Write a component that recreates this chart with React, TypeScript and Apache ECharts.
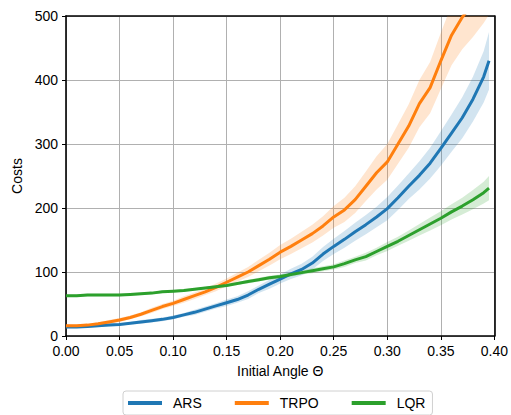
import React, { useEffect, useRef } from "react";
import * as echarts from "echarts";

const angles = [
  0, 0.01, 0.02, 0.03, 0.04, 0.05, 0.06, 0.07, 0.08, 0.09,
  0.1, 0.11, 0.12, 0.13, 0.14, 0.15, 0.16, 0.17, 0.18, 0.19,
  0.2, 0.21, 0.22, 0.23, 0.24, 0.25, 0.26, 0.27, 0.28, 0.29,
  0.3, 0.31, 0.32, 0.33, 0.34, 0.35, 0.36, 0.37, 0.38, 0.39, 0.395,
];

const arsMean = [
  14, 14, 15, 16, 17, 18, 20, 22, 24, 26,
  29, 33, 37, 42, 47, 52, 57, 64, 73, 81,
  89, 97, 104, 114, 128, 140, 151, 163, 174, 186,
  199, 216, 234, 251, 270, 293, 317, 341, 370, 405, 430,
];
const arsSpread = [
  2, 2, 2, 2, 2, 2, 2, 3, 3, 3,
  3, 3, 4, 4, 4, 5, 5, 6, 6, 7,
  7, 8, 9, 10, 11, 12, 13, 14, 15, 16,
  18, 19, 20, 22, 24, 27, 29, 32, 35, 40, 45,
];

const trpoMean = [
  16, 16, 17, 19, 22, 25, 29, 34, 40, 46,
  51, 57, 63, 69, 76, 84, 92, 100, 110, 120,
  131, 140, 150, 160, 172, 186, 197, 213, 234, 255,
  272, 300, 328, 363, 388, 430, 470, 498, 520, 545, 560,
];
const trpoSpread = [
  2, 2, 2, 2, 3, 3, 3, 3, 4, 4,
  4, 5, 5, 5, 6, 6, 7, 8, 9, 10,
  11, 12, 13, 14, 15, 17, 19, 21, 23, 26,
  28, 31, 34, 37, 40, 44, 47, 50, 53, 56, 58,
];

const lqrMean = [
  63, 63, 64, 64, 64, 64, 65, 66, 67, 69,
  70, 71, 73, 75, 77, 79, 82, 85, 88, 91,
  93, 96, 99, 102, 105, 108, 113, 119, 124, 132,
  140, 148, 157, 166, 175, 184, 194, 203, 213, 224, 231,
];
const lqrSpread = [
  2, 2, 2, 2, 2, 2, 2, 2, 2, 2,
  2, 2, 2, 2, 2, 2, 2, 3, 3, 3,
  3, 3, 3, 4, 4, 4, 5, 5, 6, 6,
  7, 7, 8, 9, 10, 11, 12, 13, 15, 17, 19,
];

const seriesNames = ["ARS", "TRPO", "LQR"];
const colors = ["#1f77b4", "#ff7f0e", "#2ca02c"];
const bandColors = [
  "rgba(31,119,180,0.2)",
  "rgba(255,127,14,0.2)",
  "rgba(44,160,44,0.2)",
];

const xTicks = { min: 0, max: 0.4, interval: 0.05 };
const yTicks = { min: 0, max: 500, interval: 100 };

const FONT = "Liberation Sans, Arial, Helvetica, sans-serif";

export default function App() {
  const ref = useRef<HTMLDivElement>(null);

  useEffect(() => {
    if (!ref.current) return;
    const chart = echarts.init(ref.current, undefined, { renderer: "svg" });

    const means = [arsMean, trpoMean, lqrMean];
    const spreads = [arsSpread, trpoSpread, lqrSpread];

    const bandSeries = means.map((m, i) => {
      const s = spreads[i];
      const lower = m.map((v, k) => v - s[k]);
      const upper = m.map((v, k) => v + s[k]);
      return {
        name: seriesNames[i] + " band",
        type: "custom",
        clip: true,
        silent: true,
        z: 1,
        data: angles.map((x, k) => [x, lower[k], upper[k]]),
        encode: { x: 0, y: [1, 2] },
        renderItem: (params: any, api: any) => {
          if (params.dataIndex !== 0) return { type: "group", children: [] };
          const pts: number[][] = [];
          for (let k = 0; k < angles.length; k++) pts.push(api.coord([angles[k], upper[k]]));
          for (let k = angles.length - 1; k >= 0; k--) pts.push(api.coord([angles[k], lower[k]]));
          return {
            type: "polygon",
            shape: { points: pts },
            style: { fill: bandColors[i], stroke: "none" },
          };
        },
      };
    });

    const lineSeries = means.map((m, i) => ({
      name: seriesNames[i],
      type: "line",
      data: angles.map((x, k) => [x, m[k]]),
      symbol: "none",
      color: colors[i],
      lineStyle: { color: colors[i], width: 3 },
      z: 3,
    }));

    const axisLabelStyle = { color: "#000", fontSize: 14, fontFamily: FONT };

    chart.setOption({
      animation: false,
      backgroundColor: "#fff",
      textStyle: { fontFamily: FONT },
      grid: { left: 66, right: 16, top: 16, bottom: 79, containLabel: false },
      legend: {
        data: seriesNames.map((n, i) => ({ name: n, icon: "rect", itemStyle: { color: colors[i] } })),
        left: 123,
        top: 391,
        orient: "horizontal",
        padding: [5, 7, 5, 5],
        itemGap: 33,
        itemWidth: 34,
        itemHeight: 4,
        borderColor: "#d0d0d0",
        borderWidth: 1,
        borderRadius: 3,
        textStyle: { color: "#000", fontSize: 14, fontFamily: FONT, padding: [0, 0, 0, 6] },
        selectedMode: false,
      },
      xAxis: [
        {
          type: "value",
          min: xTicks.min,
          max: xTicks.max,
          interval: xTicks.interval,
          name: "Initial Angle Θ",
          nameLocation: "middle",
          nameGap: 28,
          nameTextStyle: { color: "#000", fontSize: 14, fontFamily: FONT },
          axisLine: { show: true, onZero: false, lineStyle: { color: "#000", width: 1.6 } },
          axisTick: { show: true, length: 4, lineStyle: { color: "#000", width: 1 } },
          axisLabel: { ...axisLabelStyle, margin: 8, formatter: (v: number) => v.toFixed(2) },
          splitLine: { show: true, lineStyle: { color: "#b0b0b0", width: 1 } },
        },
        {
          type: "value",
          position: "top",
          min: xTicks.min,
          max: xTicks.max,
          axisLine: { show: true, onZero: false, lineStyle: { color: "#000", width: 1.6 } },
          axisTick: { show: false },
          axisLabel: { show: false },
          splitLine: { show: false },
        },
      ],
      yAxis: [
        {
          type: "value",
          min: yTicks.min,
          max: yTicks.max,
          interval: yTicks.interval,
          name: "Costs",
          nameLocation: "middle",
          nameGap: 40,
          nameTextStyle: { color: "#000", fontSize: 14, fontFamily: FONT },
          axisLine: { show: true, onZero: false, lineStyle: { color: "#000", width: 1.6 } },
          axisTick: { show: true, length: 4, lineStyle: { color: "#000", width: 1 } },
          axisLabel: { ...axisLabelStyle, margin: 8 },
          splitLine: { show: true, lineStyle: { color: "#b0b0b0", width: 1 } },
        },
        {
          type: "value",
          position: "right",
          min: yTicks.min,
          max: yTicks.max,
          axisLine: { show: true, onZero: false, lineStyle: { color: "#000", width: 1.6 } },
          axisTick: { show: false },
          axisLabel: { show: false },
          splitLine: { show: false },
        },
      ],
      series: [...bandSeries, ...lineSeries],
    });

    return () => chart.dispose();
  }, []);

  return (
    <div
      ref={ref}
      style={{ position: "absolute", left: 0, top: 0, width: 511, height: 415 }}
    />
  );
}
